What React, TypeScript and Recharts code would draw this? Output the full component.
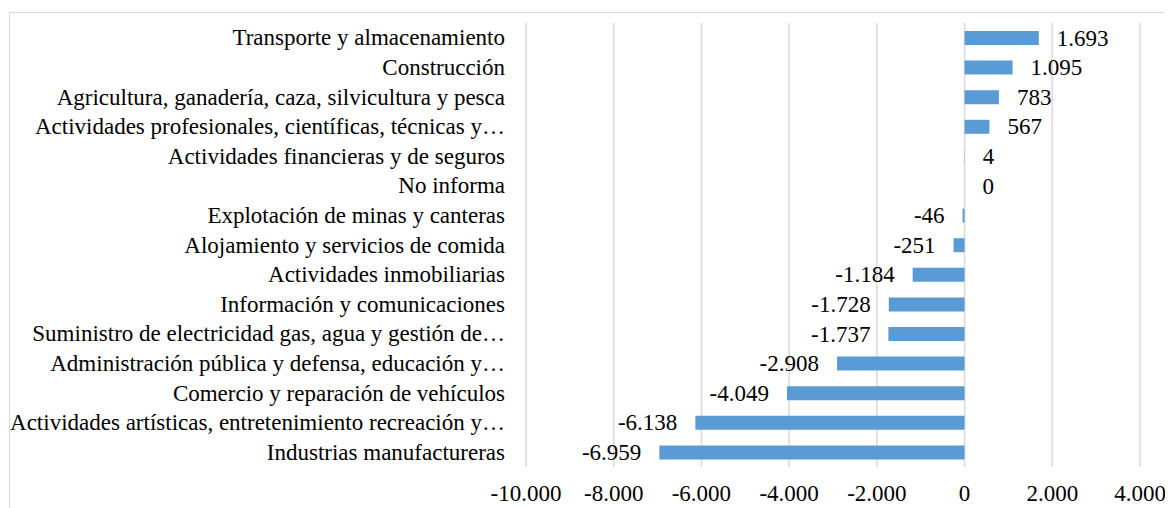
import { BarChart, Bar, XAxis, YAxis, CartesianGrid, Rectangle } from 'recharts'

const sectors = [
  'Transporte y almacenamiento',
  'Construcción',
  'Agricultura, ganadería, caza, silvicultura y pesca',
  'Actividades profesionales, científicas, técnicas y…',
  'Actividades financieras y de seguros',
  'No informa',
  'Explotación de minas y canteras',
  'Alojamiento y servicios de comida',
  'Actividades inmobiliarias',
  'Información y comunicaciones',
  'Suministro de electricidad gas, agua y gestión de…',
  'Administración pública y defensa, educación y…',
  'Comercio y reparación de vehículos',
  'Actividades artísticas, entretenimiento recreación y…',
  'Industrias manufactureras',
]

const changes = [1693, 1095, 783, 567, 4, 0, -46, -251, -1184, -1728, -1737, -2908, -4049, -6138, -6959]

const xTicks = [-10000, -8000, -6000, -4000, -2000, 0, 2000, 4000]

const data = sectors.map((name, i) => ({ name, value: changes[i] }))

const FONT = "'Times New Roman', 'Liberation Serif', Tinos, 'DejaVu Serif', serif"

// puntos como separador de miles, como en el original
const fmt = (n: number) => {
  const s = Math.abs(n).toString().replace(/\B(?=(\d{3})+(?!\d))/g, '.')
  return (n < 0 ? '-' : '') + s
}

const CategoryTick = (props: any) => {
  const { x, y, payload } = props
  return (
    <text x={x} y={y} textAnchor="end" dominantBaseline="central" fill="#000" fontSize={23} fontFamily={FONT}>
      {payload.value}
    </text>
  )
}

// barra + etiqueta juntas, así también sale la etiqueta del valor 0
const BarWithLabel = (props: any) => {
  const { x, y, width, height, value, fill } = props
  const v = Array.isArray(value) ? value[1] - value[0] : Number(value)
  const a = Number(x)
  const b = Number(x) + Number(width)
  const neg = v < 0
  const end = neg ? Math.min(a, b) : Math.max(a, b)
  return (
    <g>
      {width !== 0 && <Rectangle x={x} y={y} width={width} height={height} fill={fill} />}
      <text
        x={neg ? end - 18 : end + 18}
        y={Number(y) + Number(height) / 2}
        textAnchor={neg ? 'end' : 'start'}
        dominantBaseline="central"
        fill="#000"
        fontSize={23}
        fontFamily={FONT}
      >
        {fmt(v)}
      </text>
    </g>
  )
}

export default function App() {
  return (
    <div
      style={{
        marginTop: 4,
        marginLeft: 1,
        width: 1170,
        height: 500,
        border: '1px solid #d9d9d9',
        borderRight: 'none',
        borderBottom: 'none',
        background: '#fff',
        fontFamily: FONT,
      }}
    >
      <BarChart
        width={1160}
        height={495}
        data={data}
        layout="vertical"
        margin={{ top: 10, right: 30, left: 0, bottom: 0 }}
        barCategoryGap={0}
        style={{ fontFamily: FONT }}
      >
        <CartesianGrid horizontal={false} stroke="#d9d9d9" strokeWidth={1.5} />
        <XAxis
          type="number"
          domain={[-10000, 4000]}
          ticks={xTicks}
          tickFormatter={fmt}
          axisLine={false}
          tickLine={false}
          tickMargin={12}
          height={41}
          interval={0}
          tick={{ fontSize: 23, fill: '#000', fontFamily: FONT }}
        />
        <YAxis
          type="category"
          dataKey="name"
          width={516}
          axisLine={false}
          tickLine={false}
          tickMargin={15}
          interval={0}
          tick={<CategoryTick />}
        />
        <Bar dataKey="value" fill="#5b9bd5" barSize={14} isAnimationActive={false} shape={<BarWithLabel />} />
      </BarChart>
    </div>
  )
}
